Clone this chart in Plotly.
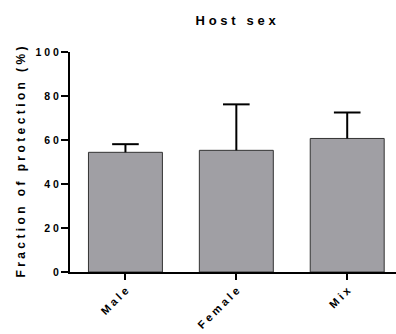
import plotly.graph_objects as go

categories = ["Male", "Female", "Mix"]
means = [54.4, 55.3, 60.7]
upper_err = [3.7, 20.9, 11.8]
y_ticks = [0, 20, 40, 60, 80, 100]

T = "\u2009\u200a"
def sp(s):
    return T.join(list(s))

cap_half = 0.12
ex, ey = [], []
for i, (m, e) in enumerate(zip(means, upper_err)):
    ex += [i, i, None, i - cap_half, i + cap_half, None]
    ey += [m, m + e, None, m + e, m + e, None]

fig = go.Figure()
fig.add_trace(go.Bar(
    x=list(range(len(categories))), y=means,
    marker=dict(color="#a09fa4", line=dict(color="#333333", width=1)),
    width=0.667,
))
fig.add_trace(go.Scatter(x=ex, y=ey, mode="lines",
                         line=dict(color="black", width=2), hoverinfo="skip"))
fig.update_layout(
    width=396, height=334,
    margin=dict(l=70, r=0, t=52, b=62),
    plot_bgcolor="white", paper_bgcolor="white",
    showlegend=False,
    font=dict(family="Arial, Liberation Sans", color="#000000", size=10),
    title=dict(text="<b>" + sp("Host sex") + "</b>", x=0.595, xanchor="center",
               y=0.94, yanchor="middle", font=dict(size=13)),
)
fig.update_xaxes(
    range=[-0.5, 2.44], showline=True, linecolor="black", linewidth=2,
    ticks="outside", ticklen=6, tickwidth=2, tickcolor="black",
    tickangle=-45, tickvals=[0, 1, 2],
    ticktext=["<b>" + sp(c) + "</b>" for c in categories],
    tickfont=dict(size=11), showgrid=False, zeroline=False,
)
fig.update_yaxes(
    range=[0, 100], showline=True, linecolor="black", linewidth=2,
    ticks="outside", ticklen=7, tickwidth=2, tickcolor="black",
    tickvals=y_ticks, ticktext=["<b>" + sp(str(v)) + "</b>" for v in y_ticks],
    tickfont=dict(size=10.5),
    showgrid=False, zeroline=False,
    title=dict(text="<b>" + sp("Fraction of protection (%)") + "</b>",
               font=dict(size=12), standoff=7),
)
fig.write_html("out.html")
